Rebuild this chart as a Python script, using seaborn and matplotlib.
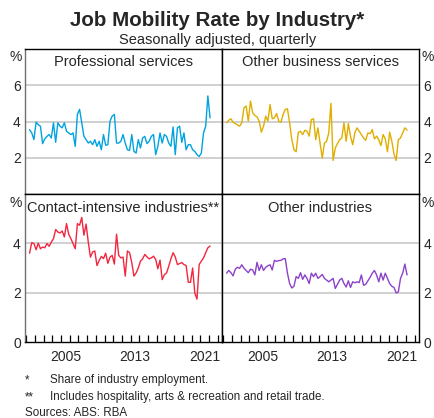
import numpy as np
import pandas as pd
import matplotlib
matplotlib.use("Agg")
import matplotlib.pyplot as plt
import seaborn as sns

# Quarterly job mobility rates (per cent of industry employment)
professional = [3.55, 3.37, 3.0, 3.96, 3.83, 3.74, 2.78, 3.04, 3.18, 3.28,
                3.09, 3.93, 2.85, 3.93, 3.74, 3.65, 3.93, 3.46, 3.37, 3.28,
                3.37, 2.63, 4.39, 4.67, 3.93, 3.18, 3.0, 2.81, 2.91, 2.72,
                3.0, 2.63, 2.91, 2.44, 3.28, 2.69, 2.72, 4.02, 4.30, 4.39,
                2.81, 2.81, 2.91, 3.28, 2.81, 2.44, 2.41, 3.28, 2.35, 2.26,
                3.0, 2.54, 3.09, 3.18, 2.78, 2.91, 3.18, 3.28, 2.17, 2.63,
                3.37, 2.81, 3.28, 3.18, 2.81, 2.63, 3.70, 2.17, 3.65, 3.74,
                2.85, 3.37, 2.44, 2.72, 2.72, 2.44, 2.35, 2.17, 2.07, 2.26,
                3.37, 3.74, 5.41, 4.20]

other_business = [3.93, 4.07, 4.15, 3.96, 3.89, 3.81, 3.74, 3.93, 4.76, 4.85,
                  4.02, 5.13, 4.48, 4.33, 4.26, 4.02, 3.41, 3.74, 4.30, 4.02,
                  4.94, 4.15, 4.20, 4.44, 4.02, 3.96, 4.39, 4.67, 4.70, 3.93,
                  3.0, 2.44, 2.33, 3.41, 3.46, 3.28, 3.52, 3.46, 3.19, 4.11,
                  4.15, 3.0, 3.65, 2.81, 1.98, 2.81, 2.91, 3.37, 5.0, 1.85,
                  2.54, 2.78, 3.0, 3.09, 3.93, 2.91, 3.89, 3.19, 2.72, 3.37,
                  3.65, 3.46, 3.28, 3.09, 2.96, 3.37, 3.33, 3.55, 3.04, 3.19,
                  3.0, 2.67, 3.28, 3.04, 2.33, 3.41, 2.91, 2.2, 1.85, 3.0,
                  3.09, 3.37, 3.65, 3.52]

contact = [3.60, 4.03, 3.99, 3.74, 4.01, 3.78, 3.85, 3.82, 3.99, 3.88,
           4.05, 4.19, 4.56, 4.46, 4.42, 4.50, 4.26, 4.80, 4.37, 4.19,
           3.99, 3.78, 4.80, 4.73, 5.05, 4.33, 4.78, 4.05, 3.44, 3.65,
           3.69, 3.10, 3.30, 3.47, 3.38, 3.60, 3.19, 3.44, 3.51, 3.16,
           4.37, 3.51, 3.41, 3.44, 2.67, 3.69, 3.62, 3.22, 2.67, 2.80,
           3.0, 3.28, 3.37, 3.55, 3.45, 3.37, 3.41, 3.48, 3.35, 2.97,
           3.32, 2.53, 2.73, 2.80, 3.07, 3.37, 3.62, 3.45, 3.14, 3.18,
           3.22, 3.14, 3.10, 2.42, 2.42, 3.0, 1.98, 1.74, 3.14, 3.28,
           3.41, 3.62, 3.82, 3.89]

other_industries = [2.79, 2.90, 2.81, 2.68, 2.95, 3.03, 2.99, 3.13, 2.99, 2.90,
                    2.81, 2.95, 2.92, 2.72, 3.23, 2.90, 3.13, 2.90, 3.03, 3.09,
                    3.13, 2.92, 3.31, 3.27, 3.30, 3.31, 3.37, 3.38, 2.79, 2.37,
                    2.19, 2.26, 2.65, 2.58, 2.81, 2.54, 2.72, 2.58, 2.37, 2.79,
                    2.65, 2.79, 2.58, 2.65, 2.74, 2.58, 2.51, 2.44, 2.51, 2.58,
                    2.17, 2.34, 2.51, 2.58, 2.37, 2.23, 2.48, 2.21, 2.44, 2.40,
                    2.44, 2.41, 2.72, 2.30, 2.34, 2.48, 2.62, 2.79, 2.90, 2.72,
                    2.44, 2.79, 2.51, 2.79, 2.58, 2.37, 2.26, 2.21, 1.99, 2.03,
                    2.58, 2.79, 3.16, 2.72]

# quarters starting 2001 Q2 (plotted mid-quarter)
quarters = 2001.375 + 0.25 * np.arange(len(professional))

panel_titles = ["Professional services", "Other business services",
                "Contact-intensive industries**", "Other industries"]
panel_colors = ["#00A3E0", "#E0AE00", "#F2263E", "#8C42C8"]
year_labels = ["2005", "2013", "2021"]

df = pd.DataFrame({
    "date": np.tile(quarters, 4),
    "rate": professional + other_business + contact + other_industries,
    "industry": np.repeat(panel_titles, len(quarters)),
})

sns.set_theme(style="white")
plt.rcParams["font.family"] = ["Liberation Sans", "DejaVu Sans"]

W, H = 435, 418
fig = plt.figure(figsize=(W / 100, H / 100), dpi=100)


def fx(x):
    return x / W


def fy(y):
    return 1 - y / H


boxes = [(25, 49, 222, 194), (222, 49, 419, 194),
         (25, 194, 222, 342), (222, 194, 419, 342)]

for i, (title, color) in enumerate(zip(panel_titles, panel_colors)):
    x0, y0, x1, y1 = boxes[i]
    ax = fig.add_axes([fx(x0), fy(y1), fx(x1) - fx(x0), fy(y0) - fy(y1)])
    top = i < 2
    right = i % 2 == 1
    ymax = 8 if top else 6
    ticks = [2, 4, 6] if top else [0, 2, 4]
    for t in ticks:
        if t > 0:
            ax.axhline(t, color="#c8c8c8", lw=1.2, zorder=0)
    sns.lineplot(data=df[df["industry"] == title], x="date", y="rate",
                 color=color, lw=1.0, ax=ax, legend=False)
    ax.set_xlim(2000.85, 2023.5)
    ax.set_ylim(0, ymax)
    ax.set_xlabel("")
    ax.set_ylabel("")
    ax.set_yticks(ticks)
    ax.set_yticklabels([str(t) for t in ticks], fontsize=10)
    ax.tick_params(axis="y", length=0, pad=3)
    if right:
        ax.yaxis.tick_right()
    if top:
        ax.set_xticks([])
    else:
        ax.set_xticks(np.arange(2001, 2024))
        ax.set_xticklabels([])
        ax.set_xticks([2005.5, 2013.5, 2021.5], minor=True)
        ax.set_xticklabels(year_labels, minor=True, fontsize=10)
        ax.tick_params(axis="x", which="major", direction="in", length=5,
                       width=0.9, color="black", bottom=True)
        ax.tick_params(axis="x", which="minor", length=0, pad=6, bottom=True)
    for s in ax.spines.values():
        s.set_visible(True)
        s.set_color("black")
        s.set_linewidth(1)
    if not right:
        ax.spines["left"].set_color("#707070")
    tb = 66.5 if top else 212.5
    ax.text((x0 + x1) / 2 / W, fy(tb), title, transform=fig.transFigure,
            ha="center", va="baseline", fontsize=10.5)
    py = 61 if top else 207
    if right:
        fig.text(fx(422), fy(py), "%", ha="left", va="baseline", fontsize=10)
    else:
        fig.text(fx(22), fy(py), "%", ha="right", va="baseline", fontsize=10)

fig.text(0.5, fy(26), "Job Mobility Rate by Industry*", ha="center",
         va="baseline", fontsize=14.8, fontweight="bold")
fig.text(0.5, fy(44), "Seasonally adjusted, quarterly", ha="center",
         va="baseline", fontsize=10.5)

fs = 8.4
fig.text(fx(25), fy(383), "*", ha="left", va="baseline", fontsize=fs)
fig.text(fx(50), fy(383), "Share of industry employment.", ha="left",
         va="baseline", fontsize=fs)
fig.text(fx(25), fy(400), "**", ha="left", va="baseline", fontsize=fs)
fig.text(fx(50), fy(400), "Includes hospitality, arts & recreation and retail trade.",
         ha="left", va="baseline", fontsize=fs)
fig.text(fx(25), fy(416.5), "Sources: ABS: RBA", ha="left", va="baseline",
         fontsize=fs)

fig.savefig("out.png", dpi=100)
